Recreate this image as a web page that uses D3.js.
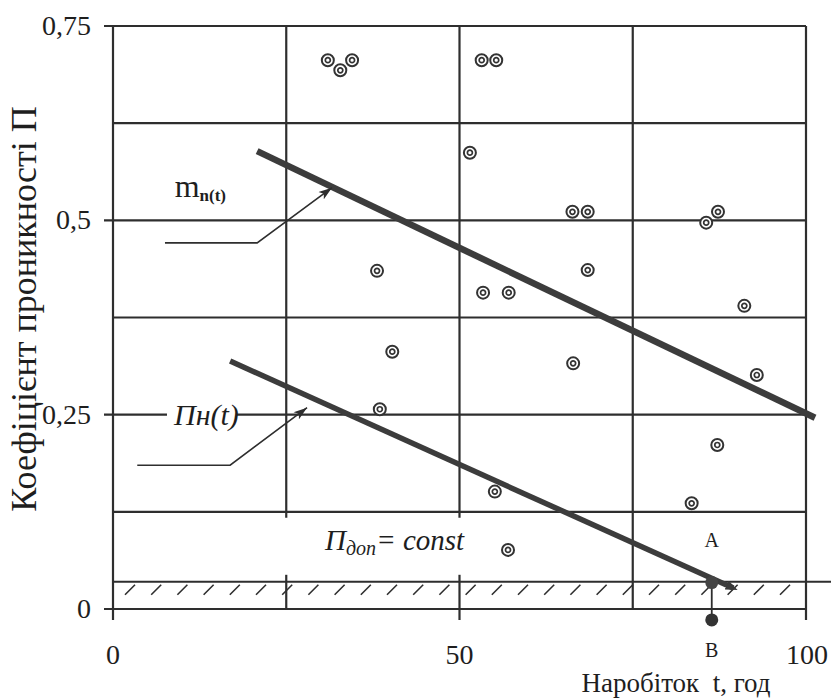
<!DOCTYPE html>
<html>
<head>
<meta charset="utf-8">
<script src="https://cdn.jsdelivr.net/npm/d3@7"></script>
</head>
<body style="margin:0">
<svg id="chart" width="831" height="698" style="display:block;background:#fff"></svg>
<script>
// ---------- data ----------
const xTicks = [0, 50, 100];
const xTickLabels = ["0", "50", "100"];
const yTicks = [0, 0.25, 0.5, 0.75];
const yTickLabels = ["0", "0,25", "0,5", "0,75"];
const gridX = [0, 25, 50, 75, 100];
const gridY = [0, 0.125, 0.25, 0.375, 0.5, 0.625, 0.75];

// measured points: operating time t (h) and penetration coefficient P
const pointT = [31.0, 32.8, 34.5, 53.2, 55.3, 51.5, 66.3, 68.5, 85.6, 87.3,
                38.1, 53.4, 57.1, 68.5, 91.1, 40.3, 66.4, 92.9, 38.5, 87.2,
                55.1, 83.5, 57.0];
const pointP = [0.706, 0.693, 0.706, 0.706, 0.706, 0.587, 0.511, 0.511, 0.497, 0.511,
                0.435, 0.407, 0.407, 0.436, 0.390, 0.331, 0.316, 0.301, 0.257, 0.211,
                0.151, 0.136, 0.076];

// trend lines
const mLineT = [20.8, 101.3];
const mLineP = [0.589, 0.246];
const nLineT = [16.9, 89.5];
const nLineP = [0.319, 0.027];

// admissible level
const pDop = 0.035;

// special points A and B
const pointAT = 86.4, pointAP = 0.034;
const pointBT = 86.4, pointBP = -0.014;

// annotation pointers (data coords)
const mPointerT = [7.5, 20.8, 31.6];
const mPointerP = [0.471, 0.471, 0.542];
const nPointerT = [3.5, 16.9, 28.0];
const nPointerP = [0.185, 0.185, 0.259];

// ---------- drawing ----------
const FONT = '"Liberation Serif"';
const svg = d3.select("#chart");
const x = d3.scaleLinear().domain([0, 100]).range([113, 806]);
const y = d3.scaleLinear().domain([0, 0.75]).range([609, 26]);

const ink = "#2e2e2e";
const gridW = 2.2;

function txt(sel) {
  return sel.append("text").style("font-family", FONT).style("fill", "#1e1e1e");
}

const defs = svg.append("defs");
defs.append("marker")
  .attr("id", "arrow")
  .attr("viewBox", "0 0 12 8")
  .attr("refX", 12).attr("refY", 4)
  .attr("markerWidth", 14).attr("markerHeight", 9)
  .attr("markerUnits", "userSpaceOnUse")
  .attr("orient", "auto")
  .append("path").attr("d", "M0,0 L12,4 L0,8 L3,4 Z").attr("fill", ink);
defs.append("marker")
  .attr("id", "arrowEnd")
  .attr("viewBox", "0 0 10 8")
  .attr("refX", 6).attr("refY", 4)
  .attr("markerWidth", 12).attr("markerHeight", 10)
  .attr("markerUnits", "userSpaceOnUse")
  .attr("orient", "auto")
  .append("path").attr("d", "M0,0 L10,4 L0,8 Z").attr("fill", "#3a3a3a");

const g = svg.append("g");

// horizontal grid lines
gridY.forEach(v => {
  const isTick = yTicks.includes(v);
  g.append("line")
    .attr("x1", isTick ? x(0) - 9 : x(0))
    .attr("x2", x(100))
    .attr("y1", y(v)).attr("y2", y(v))
    .attr("stroke", ink).attr("stroke-width", gridW);
});

// vertical grid lines (inner ones interrupted above the admissible zone)
gridX.forEach(v => {
  let bottom;
  if (v === 0 || v === 100) bottom = y(0) + 11;
  else if (v === 75) bottom = y(0);
  else bottom = y(0.125) + 6;
  g.append("line")
    .attr("x1", x(v)).attr("x2", x(v))
    .attr("y1", y(0.75)).attr("y2", bottom)
    .attr("stroke", ink).attr("stroke-width", gridW);
  if (v === 25 || v === 50) {
    g.append("line")
      .attr("x1", x(v)).attr("x2", x(v))
      .attr("y1", y(pDop) - 7).attr("y2", v === 50 ? y(0) + 11 : y(0))
      .attr("stroke", ink).attr("stroke-width", gridW);
  }
});

// admissible level line with hatching
g.append("line")
  .attr("x1", x(0)).attr("x2", 831)
  .attr("y1", y(pDop)).attr("y2", y(pDop))
  .attr("stroke", ink).attr("stroke-width", 2);
d3.range(x(0) + 12, x(100) - 10, 26.2).forEach(px => {
  g.append("line")
    .attr("x1", px).attr("y1", y(pDop) + 13)
    .attr("x2", px + 10).attr("y2", y(pDop) + 3)
    .attr("stroke", ink).attr("stroke-width", 1.6);
});

// trend lines
g.append("line")
  .attr("x1", x(mLineT[0])).attr("y1", y(mLineP[0]))
  .attr("x2", x(mLineT[1])).attr("y2", y(mLineP[1]))
  .attr("stroke", "#3c3c3c").attr("stroke-width", 6.5);
g.append("line")
  .attr("x1", x(nLineT[0])).attr("y1", y(nLineP[0]))
  .attr("x2", x(nLineT[1])).attr("y2", y(nLineP[1]))
  .attr("stroke", "#3c3c3c").attr("stroke-width", 5.5)
  .attr("marker-end", "url(#arrowEnd)");

// pointers
const lineGen = d3.line();
g.append("path")
  .attr("d", lineGen(mPointerT.map((t, i) => [x(t), y(mPointerP[i])])))
  .attr("fill", "none").attr("stroke", ink).attr("stroke-width", 1.6)
  .attr("marker-end", "url(#arrow)");
g.append("path")
  .attr("d", lineGen(nPointerT.map((t, i) => [x(t), y(nPointerP[i])])))
  .attr("fill", "none").attr("stroke", ink).attr("stroke-width", 1.6)
  .attr("marker-end", "url(#arrow)");

// data points: double circles
const pts = g.selectAll("g.pt").data(pointT.map((t, i) => [t, pointP[i]]))
  .join("g").attr("class", "pt")
  .attr("transform", d => `translate(${x(d[0])},${y(d[1])})`);
pts.append("circle").attr("r", 6).attr("fill", "#fff")
  .attr("stroke", "#333").attr("stroke-width", 2);
pts.append("circle").attr("r", 2.5).attr("fill", "#fff")
  .attr("stroke", "#333").attr("stroke-width", 1.7);

// points A and B
g.append("line")
  .attr("x1", x(pointAT)).attr("x2", x(pointBT))
  .attr("y1", y(pointAP)).attr("y2", y(pointBP))
  .attr("stroke", ink).attr("stroke-width", 1.8);
g.append("circle").attr("cx", x(pointAT)).attr("cy", y(pointAP)).attr("r", 6.5).attr("fill", "#444");
g.append("circle").attr("cx", x(pointBT)).attr("cy", y(pointBP)).attr("r", 6.5).attr("fill", "#333");
txt(g).attr("x", x(pointAT)).attr("y", y(pointAP) - 36)
  .attr("text-anchor", "middle").attr("font-size", 20).text("A");
txt(g).attr("x", x(pointBT)).attr("y", y(pointBP) + 37)
  .attr("text-anchor", "middle").attr("font-size", 20).text("B");

// labels
const mLab = txt(g).attr("x", x(8.9)).attr("y", y(0.530)).attr("font-size", 32);
mLab.append("tspan").text("m");
mLab.append("tspan").attr("font-size", 17).attr("font-weight", "bold").attr("dy", 4).text("n(t)");

// Пн(t) label with gap in gridline
const nlx = x(8.8), nly = y(0.25);
g.append("rect").attr("x", nlx - 7).attr("y", nly - 3).attr("width", 70).attr("height", 6).attr("fill", "#fff");
txt(g).attr("x", nlx).attr("y", nly + 10)
  .attr("font-size", 30).attr("font-style", "italic").text("Пн(t)");

const dopLab = txt(g).attr("x", x(30.6)).attr("y", y(0.076))
  .attr("font-size", 29).attr("font-style", "italic");
dopLab.append("tspan").text("П");
dopLab.append("tspan").attr("font-size", 20).attr("dy", 5).text("доп");
dopLab.append("tspan").attr("dy", -5).text("= const");

// tick labels
yTicks.forEach((d, i) => {
  txt(g).attr("x", 91).attr("y", y(d) + 9)
    .attr("text-anchor", "end").attr("font-size", 28)
    .text(yTickLabels[i]);
});
xTicks.forEach((d, i) => {
  txt(g).attr("x", x(d) + (d === 100 ? 1 : 0)).attr("y", 664)
    .attr("text-anchor", "middle").attr("font-size", 28)
    .text(xTickLabels[i]);
});

// axis titles
txt(g)
  .attr("transform", "translate(36,309) rotate(-90)")
  .attr("text-anchor", "middle").attr("font-size", 36)
  .text("Коефіцієнт проникності  П");
txt(g).attr("x", 676).attr("y", 692)
  .attr("text-anchor", "middle").attr("font-size", 27)
  .style("white-space", "pre")
  .text("Наробіток  t, год");
</script>
</body>
</html>
